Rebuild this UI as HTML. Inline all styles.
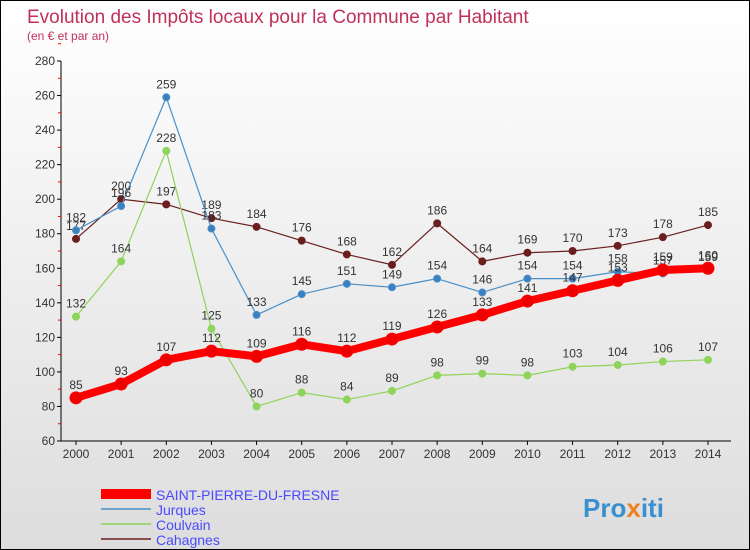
<!DOCTYPE html>
<html><head><meta charset="utf-8"><style>
body{margin:0}
#c{width:750px;height:550px;position:relative;overflow:hidden;font-family:"Liberation Sans",sans-serif;background:linear-gradient(#fff,#ddd);box-sizing:border-box;border:1px solid #000}
</style></head><body>
<div id="c">
<svg id="s" width="750" height="550" style="position:absolute;left:0;top:0">
<text x="26" y="22" font-size="19" fill="#c0305a">Evolution des Impôts locaux pour la Commune par Habitant</text>
<text x="26" y="39" font-size="12" fill="#c0305a">(en € et par an)</text>
<g id="axes"></g><g id="series"></g>
<g>
<line x1="100" y1="493" x2="150" y2="493" stroke="#f00" stroke-width="10"/>
<text x="155" y="499" font-size="14" fill="#4a4aff">SAINT-PIERRE-DU-FRESNE</text>
<line x1="100" y1="508" x2="150" y2="508" stroke="#4a90c8" stroke-width="1.5"/>
<text x="155" y="514" font-size="14" fill="#4a4aff">Jurques</text>
<line x1="100" y1="523" x2="150" y2="523" stroke="#8fd45a" stroke-width="1.5"/>
<text x="155" y="529" font-size="14" fill="#4a4aff">Coulvain</text>
<line x1="100" y1="538" x2="150" y2="538" stroke="#6b1e1e" stroke-width="1.5"/>
<text x="155" y="544" font-size="14" fill="#4a4aff">Cahagnes</text>
</g>
<text x="582" y="516" font-size="26" font-weight="bold" fill="#3a8fd0">Pro<tspan fill="#f08020">x</tspan>iti</text>
</svg>
</div>
<script>
const years=[2000,2001,2002,2003,2004,2005,2006,2007,2008,2009,2010,2011,2012,2013,2014];
const yTicks=[60,80,100,120,140,160,180,200,220,240,260,280];
const stPierre=[85,93,107,112,109,116,112,119,126,133,141,147,153,159,160];
const jurques=[182,196,259,183,133,145,151,149,154,146,154,154,158,157,159];
const coulvain=[132,164,228,125,80,88,84,89,98,99,98,103,104,106,107];
const cahagnes=[177,200,197,189,184,176,168,162,186,164,169,170,173,178,185];
const NS="http://www.w3.org/2000/svg";
const X=i=>75+i*(707-75)/(years.length-1);
const Y=v=>440-(v-60)*380/220;
function mk(t,a,p){const e=document.createElementNS(NS,t);for(const k in a)e.setAttribute(k,a[k]);p.appendChild(e);return e;}
const ax=document.getElementById('axes');
mk('line',{x1:60,y1:60,x2:60,y2:440,stroke:'#000'},ax);
mk('line',{x1:60,y1:440,x2:730,y2:440,stroke:'#000'},ax);
yTicks.forEach(v=>{
 mk('line',{x1:56,y1:Y(v),x2:60,y2:Y(v),stroke:'#000'},ax);
 mk('line',{x1:57,y1:Y(v+10),x2:60,y2:Y(v+10),stroke:'#f00'},ax);
 const t=mk('text',{x:54,y:Y(v)+4,'font-size':12,'text-anchor':'end',fill:'#333'},ax);t.textContent=v;
 
 
});
years.forEach((y,i)=>{
 mk('line',{x1:X(i),y1:440,x2:X(i),y2:444,stroke:'#000'},ax);
 const t=mk('text',{x:X(i),y:457,'font-size':12,'text-anchor':'middle',fill:'#333'},ax);t.textContent=y;
 
 
});
const sg=document.getElementById('series');
function draw(data,color,dot,w,r,name){
 const g=mk('g',{},sg);
 
 
 mk('polyline',{points:data.map((v,i)=>X(i)+','+Y(v)).join(' '),fill:'none',stroke:color,'stroke-width':w,'stroke-linejoin':'round'},g);
 data.forEach((v,i)=>{
  const c=mk('circle',{cx:X(i),cy:Y(v),r:r,fill:dot,stroke:color,'stroke-width':1},g);
  
  
  const t=mk('text',{x:X(i),y:Y(v)-9,'font-size':12,'text-anchor':'middle',fill:'#333'},g);t.textContent=v;
  
  
 });
}
draw(cahagnes,'#6b1e1e','#6b1e1e',1.2,3.5,'cahagnes-series');
draw(coulvain,'#8fd45a','#8fd45a',1.2,3.5,'coulvain-series');
draw(jurques,'#4a90c8','#3a80c0',1.2,3.5,'jurques-series');
draw(stPierre,'#f00','#e00',8,6,'saint-pierre-series');
</script>
</body></html>
